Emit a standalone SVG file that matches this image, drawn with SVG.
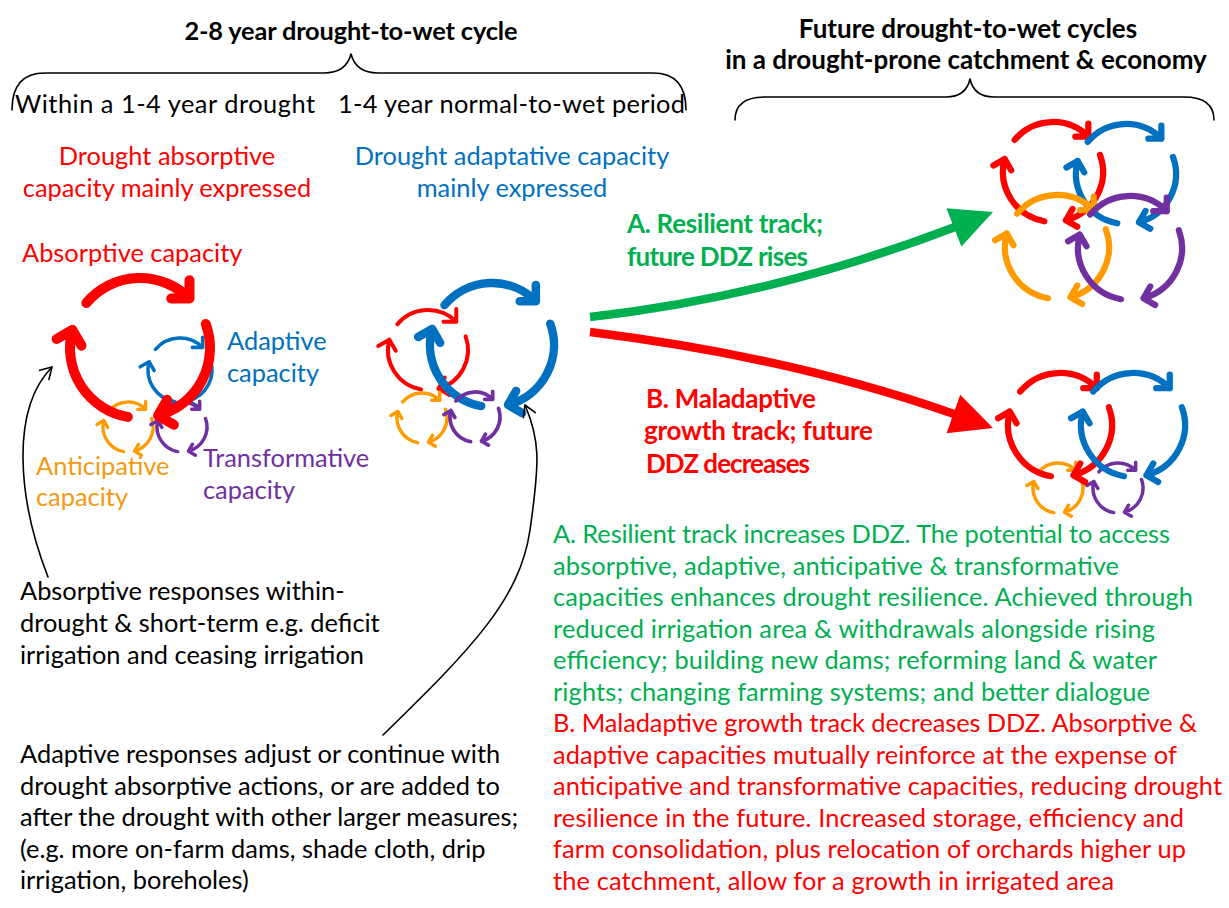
<svg xmlns="http://www.w3.org/2000/svg" xmlns:xlink="http://www.w3.org/1999/xlink" width="1229" height="908" viewBox="0 0 1229 908">
  <style>
    text { font-family: Lato, "Open Sans", "Liberation Sans", sans-serif; font-size: 25.4px; }
    .b { font-weight: bold; }
    .h { font-size: 26px; }
    .k { fill: #000000; }
    .r { fill: #FF0000; }
    .u { fill: #0070C0; }
    .o { fill: #F39A12; }
    .p { fill: #7030A0; }
    .g { fill: #00B050; }
    .mid { text-anchor: middle; }
    .brace { fill: none; stroke: #000; stroke-width: 1.6; stroke-linecap: round; stroke-linejoin: round; }
    .thin { fill: none; stroke: #000; stroke-width: 1.6; stroke-linecap: round; }
  </style>
  <defs>
    <!-- three-arc loop, radius 100, clockwise, chevron heads -->
    <g id="cyc" fill="none" stroke-linecap="round" stroke-linejoin="round">
      <path d="M -76.6 -64.3 A 100 100 0 0 1 70.7 -70.7 M 70.7 -96.7 L 70.7 -70.7 L 44.7 -70.7"/>
      <path d="M 93.97 -34.2 A 100 100 0 0 1 25.88 96.59 M 48.4 109.6 L 25.88 96.59 L 38.9 74.1"/>
      <path d="M -17.36 98.48 A 100 100 0 0 1 -96.59 -25.88 M -119.1 -12.9 L -96.59 -25.88 L -83.6 -3.4"/>
    </g>
    <!-- same loop with longer heads for the small loops -->
    <g id="cycS" fill="none" stroke-linecap="round" stroke-linejoin="round">
      <path d="M -76.6 -64.3 A 100 100 0 0 1 70.7 -70.7 M 70.7 -102.7 L 70.7 -70.7 L 38.7 -70.7"/>
      <path d="M 93.97 -34.2 A 100 100 0 0 1 25.88 96.59 M 53.6 112.6 L 25.88 96.59 L 41.9 68.9"/>
      <path d="M -17.36 98.48 A 100 100 0 0 1 -96.59 -25.88 M -124.3 -9.9 L -96.59 -25.88 L -80.6 1.8"/>
    </g>
    <marker id="chev" viewBox="-13 -8 15 16" refX="0" refY="0" markerWidth="15" markerHeight="16" markerUnits="userSpaceOnUse" orient="auto">
      <path d="M -11 -6.5 L 0 0 L -11 6.5" fill="none" stroke="#000" stroke-width="1.6" stroke-linecap="round" stroke-linejoin="round"/>
    </marker>
  </defs>

  <!-- headings and braces -->
  <g id="heading-cycle">
    <text class="b k mid" x="351" y="40" textLength="333">2-8 year drought-to-wet cycle</text>
    <path class="brace" d="M 12 110 Q 12 73 45 73 L 324 73 Q 346 73 351 54 Q 356 73 378 73 L 653 73 Q 686 73 686 110"/>
    <text class="k" x="15" y="113" textLength="300">Within a 1-4 year drought</text>
    <text class="k" x="338" y="113" textLength="347">1-4 year normal-to-wet period</text>
  </g>
  <g id="heading-future">
    <text class="b h k mid" x="968" y="38">Future drought-to-wet cycles</text>
    <text class="b h k mid" x="966" y="69">in a drought-prone catchment &amp; economy</text>
    <path class="brace" d="M 735 120 Q 735 97 765 97 L 946 97 Q 966 97 970 79 Q 974 97 994 97 L 1184 97 Q 1214 97 1214 120"/>
  </g>

  <g id="drought-phase-note">
    <text class="r mid" x="167" y="165">Drought absorptive</text>
    <text class="r mid" x="167" y="197">capacity mainly expressed</text>
  </g>
  <g id="wet-phase-note">
    <text class="u mid" x="512" y="165">Drought adaptative capacity</text>
    <text class="u mid" x="512" y="197">mainly expressed</text>
  </g>

  <!-- drought cluster: absorptive loop dominant -->
  <g id="drought-cluster">
    <use href="#cycS" transform="translate(180 370) scale(0.32)" stroke="#0070C0" stroke-width="11"/>
    <use href="#cycS" transform="translate(128 427) scale(0.25)" stroke="#FF9A00" stroke-width="13"/>
    <use href="#cycS" transform="translate(182 427) scale(0.25)" stroke="#7030A0" stroke-width="14"/>
    <use href="#cyc" transform="translate(140 348) scale(0.7)" stroke="#FF0000" stroke-width="14.3"/>
    <text class="r" x="22" y="262">Absorptive capacity</text>
    <text class="u" x="227" y="350">Adaptive</text>
    <text class="u" x="227" y="382">capacity</text>
    <text class="o" x="36" y="475">Anticipative</text>
    <text class="o" x="36" y="506">capacity</text>
    <text class="p" x="203" y="467">Transformative</text>
    <text class="p" x="203" y="499">capacity</text>
  </g>

  <!-- wet-period cluster: adaptive loop dominant -->
  <g id="wet-cluster">
    <use href="#cycS" transform="translate(428 350) scale(0.4)" stroke="#FF0000" stroke-width="10"/>
    <use href="#cyc" transform="translate(492 345) scale(0.62)" stroke="#0070C0" stroke-width="13.7"/>
    <use href="#cycS" transform="translate(422 418) scale(0.25)" stroke="#FF9A00" stroke-width="14"/>
    <use href="#cycS" transform="translate(475 417) scale(0.25)" stroke="#7030A0" stroke-width="15"/>
  </g>

  <!-- future: resilient track -->
  <g id="resilient-cluster">
    <use href="#cyc" transform="translate(1053 172) scale(0.5)" stroke="#FF0000" stroke-width="12.5"/>
    <use href="#cyc" transform="translate(1126 174) scale(0.5)" stroke="#0070C0" stroke-width="12.5"/>
    <use href="#cyc" transform="translate(1057 247) scale(0.52)" stroke="#FF9A00" stroke-width="12"/>
    <use href="#cyc" transform="translate(1130 248) scale(0.52)" stroke="#7030A0" stroke-width="12"/>
  </g>

  <!-- future: maladaptive growth track -->
  <g id="maladaptive-cluster">
    <use href="#cycS" transform="translate(1058 488) scale(0.25)" stroke="#FF9A00" stroke-width="14"/>
    <use href="#cycS" transform="translate(1118 488) scale(0.25)" stroke="#7030A0" stroke-width="14"/>
    <use href="#cyc" transform="translate(1060 425) scale(0.52)" stroke="#FF0000" stroke-width="12"/>
    <use href="#cyc" transform="translate(1133 425) scale(0.52)" stroke="#0070C0" stroke-width="12"/>
  </g>

  <g id="track-labels">
    <text class="b h g" x="627" y="233" textLength="196">A. Resilient track;</text>
    <text class="b h g" x="627" y="266" textLength="181">future DDZ rises</text>
    <text class="b h r" x="646" y="408" textLength="170">B. Maladaptive</text>
    <text class="b h r" x="644" y="440" textLength="229">growth track; future</text>
    <text class="b h r" x="646" y="473" textLength="164">DDZ decreases</text>
  </g>

  <g id="connectors">
    <path d="M 590 317 Q 775 296 955 227" fill="none" stroke="#00B050" stroke-width="8.5"/>
    <polygon points="993,212 946.4,208.2 961.4,246.4" fill="#00B050"/>
    <path d="M 590 332 Q 792 357 954 414" fill="none" stroke="#FF0000" stroke-width="8.5"/>
    <polygon points="993,428 960.2,394.7 946.6,433.3" fill="#FF0000"/>
    <path class="thin" d="M 48 577 C 18 500, 10 410, 52 367" marker-end="url(#chev)"/>
    <path class="thin" d="M 383 735 C 470 650, 520 600, 530 530 S 540 440, 525 405" marker-end="url(#chev)"/>
  </g>

  <g id="absorptive-note">
    <text class="k" x="20" y="600">Absorptive responses within-</text>
    <text class="k" x="20" y="632">drought &amp; short-term e.g. deficit</text>
    <text class="k" x="20" y="664">irrigation and ceasing irrigation</text>
  </g>
  <g id="adaptive-note">
    <text class="k" x="20" y="763">Adaptive responses adjust or continue with</text>
    <text class="k" x="20" y="795">drought absorptive actions, or are added to</text>
    <text class="k" x="20" y="826">after the drought with other larger measures;</text>
    <text class="k" x="20" y="858">(e.g. more on-farm dams, shade cloth, drip</text>
    <text class="k" x="20" y="889">irrigation, boreholes)</text>
  </g>

  <g id="track-notes">
    <text class="g" x="553" y="543" textLength="617">A. Resilient track increases DDZ. The potential to access</text>
    <text class="g" x="553" y="575" textLength="566">absorptive, adaptive, anticipative &amp; transformative</text>
    <text class="g" x="553" y="606" textLength="640">capacities enhances drought resilience. Achieved through</text>
    <text class="g" x="553" y="638" textLength="602">reduced irrigation area &amp; withdrawals alongside rising</text>
    <text class="g" x="553" y="669" textLength="604">efficiency; building new dams; reforming land &amp; water</text>
    <text class="g" x="553" y="701" textLength="597">rights; changing farming systems; and better dialogue</text>
    <text class="r" x="553" y="732" textLength="644">B. Maladaptive growth track decreases DDZ. Absorptive &amp;</text>
    <text class="r" x="553" y="764" textLength="624">adaptive capacities mutually reinforce at the expense of</text>
    <text class="r" x="553" y="795" textLength="669">anticipative and transformative capacities, reducing drought</text>
    <text class="r" x="553" y="827" textLength="631">resilience in the future. Increased storage, efficiency and</text>
    <text class="r" x="553" y="858" textLength="633">farm consolidation, plus relocation of orchards higher up</text>
    <text class="r" x="553" y="890" textLength="561">the catchment, allow for a growth in irrigated area</text>
  </g>
</svg>
